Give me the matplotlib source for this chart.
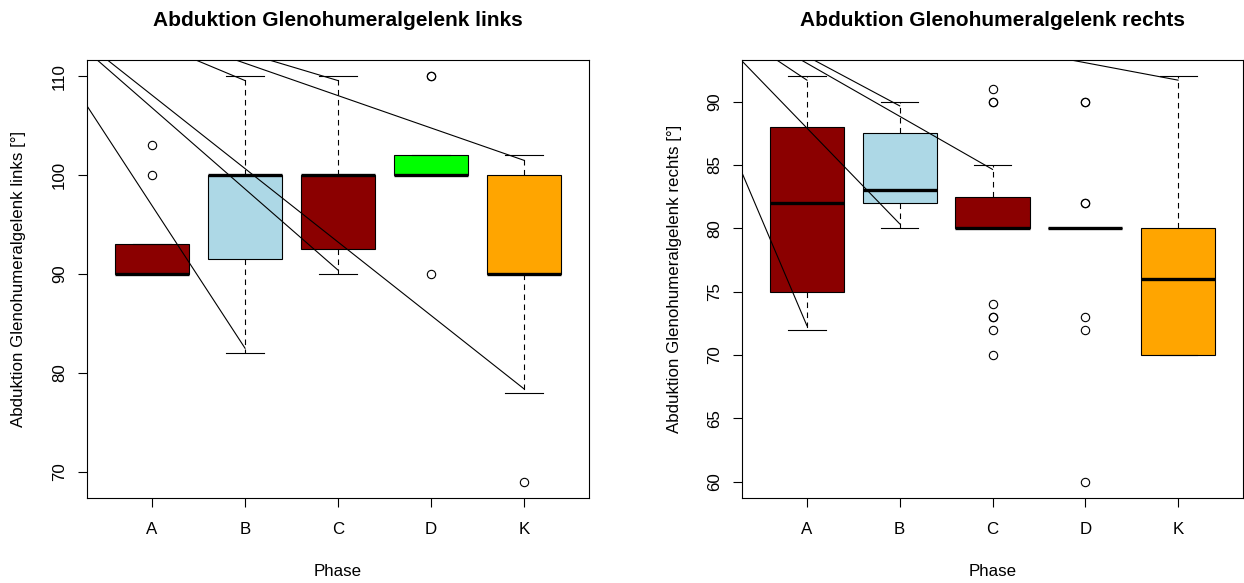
import matplotlib
matplotlib.use("Agg")
import matplotlib.pyplot as plt

plt.rcParams['font.family'] = ['Liberation Sans', 'DejaVu Sans']

phases = ["A", "B", "C", "D", "K"]
box_colors = ["#8B0000", "#ADD8E6", "#8B0000", "#00FF00", "#FFA500"]

# Left panel (links) - boxplot stats
left_q1 = [90, 91.5, 92.5, 100, 90]
left_med = [90, 100, 100, 100, 90]
left_q3 = [93, 100, 100, 102, 100]
left_whislo = [90, 82, 90, 100, 78]
left_whishi = [93, 110, 110, 102, 102]
left_fliers = [[100, 103], [], [], [90, 110, 110], [69]]
left_yticks = [70, 80, 90, 100, 110]
left_ylim = (67.36, 111.64)

# Right panel (rechts) - boxplot stats
right_q1 = [75, 82, 80, 80, 70]
right_med = [82, 83, 80, 80, 76]
right_q3 = [88, 87.5, 82.5, 80, 80]
right_whislo = [72, 80, 80, 80, 70]
right_whishi = [92, 90, 85, 80, 92]
right_fliers = [[], [], [91, 90, 90, 74, 73, 73, 72, 70], [90, 90, 82, 82, 73, 72, 60], []]
right_yticks = [60, 65, 70, 75, 80, 85, 90]
right_ylim = (58.72, 93.28)

# Stray connecting lines (start x, start y, end x, end y) in data units
left_lines_x0 = [0.30, 0.41, 0.52, 1.47, 1.90, 2.26]
left_lines_y0 = [107.0, 111.64, 111.64, 111.64, 111.64, 111.64]
left_lines_x1 = [2, 3, 5, 2, 5, 3]
left_lines_y1 = [82.5, 90.4, 78.4, 109.56, 101.5, 109.56]

right_lines_x0 = [0.30, 0.30, 0.674, 0.938, 1.074, 3.845]
right_lines_y0 = [84.38, 93.2, 93.28, 93.28, 93.28, 93.28]
right_lines_x1 = [1, 2, 1, 3, 2, 5]
right_lines_y1 = [72.31, 80.35, 91.69, 84.65, 89.66, 91.69]

titles = ["Abduktion Glenohumeralgelenk links", "Abduktion Glenohumeralgelenk rechts"]
ylabels = ["Abduktion Glenohumeralgelenk links [°]", "Abduktion Glenohumeralgelenk rechts [°]"]
xlabel = "Phase"

W, H = 1244, 583
fig = plt.figure(figsize=(W / 100, H / 100), dpi=100)

axes_px = [(87, 60, 589, 498), (742, 60, 1243, 498)]
FS = 12.2


def make_stats(q1, med, q3, lo, hi, fl):
    out = []
    for i in range(len(q1)):
        out.append(dict(q1=q1[i], med=med[i], q3=q3[i], whislo=lo[i], whishi=hi[i],
                        fliers=fl[i], label=phases[i]))
    return out


panels = [
    (make_stats(left_q1, left_med, left_q3, left_whislo, left_whishi, left_fliers),
     left_yticks, left_ylim, (left_lines_x0, left_lines_y0, left_lines_x1, left_lines_y1)),
    (make_stats(right_q1, right_med, right_q3, right_whislo, right_whishi, right_fliers),
     right_yticks, right_ylim, (right_lines_x0, right_lines_y0, right_lines_x1, right_lines_y1)),
]

for k, (stats, yt, yl, lines) in enumerate(panels):
    x0, y0, x1, y1 = axes_px[k]
    ax = fig.add_axes([x0 / W, 1 - y1 / H, (x1 - x0) / W, (y1 - y0) / H])
    bp = ax.bxp(stats, positions=range(1, 6), widths=0.8, capwidths=0.4,
                patch_artist=True, showfliers=True,
                boxprops=dict(edgecolor="black", linewidth=0.8),
                whiskerprops=dict(color="black", linewidth=0.8, linestyle=(0, (5, 4))),
                capprops=dict(color="black", linewidth=0.8),
                medianprops=dict(color="black", linewidth=2.4, solid_capstyle="butt"),
                flierprops=dict(marker="o", markerfacecolor="none", markeredgecolor="black",
                                markersize=6, markeredgewidth=0.8, linestyle="none"))
    for patch, c in zip(bp["boxes"], box_colors):
        patch.set_facecolor(c)
    lx0, ly0, lx1, ly1 = lines
    for a, b, c, d in zip(lx0, ly0, lx1, ly1):
        ax.plot([a, c], [b, d], color="black", linewidth=0.8, zorder=5)
    ax.set_xlim(0.3, 5.7)
    ax.set_ylim(*yl)
    ax.set_xticks(range(1, 6))
    ax.set_xticklabels(phases)
    ax.set_yticks(yt)
    ax.set_yticklabels([str(v) for v in yt])
    ax.tick_params(axis="both", direction="out", length=6.5, width=0.8, labelsize=FS)
    ax.tick_params(axis="x", pad=11)
    ax.tick_params(axis="y", pad=8, labelrotation=90)
    for t in ax.get_yticklabels():
        t.set_va("center")
    for s in ax.spines.values():
        s.set_linewidth(0.8)
    ax.set_xlabel(xlabel, fontsize=FS)
    ax.xaxis.set_label_coords(0.5, -(571 - 498) / 438)
    ax.xaxis.label.set_va("center")
    ax.set_ylabel(ylabels[k], fontsize=FS)
    ax.yaxis.set_label_coords(-68 / (x1 - x0), 0.5)
    ax.yaxis.label.set_va("center")
    ax.set_title(titles[k], fontsize=15, fontweight="bold", y=1 + (60 - 20) / 438,
                 va="center", pad=0)

fig.savefig("out.png", dpi=100)
